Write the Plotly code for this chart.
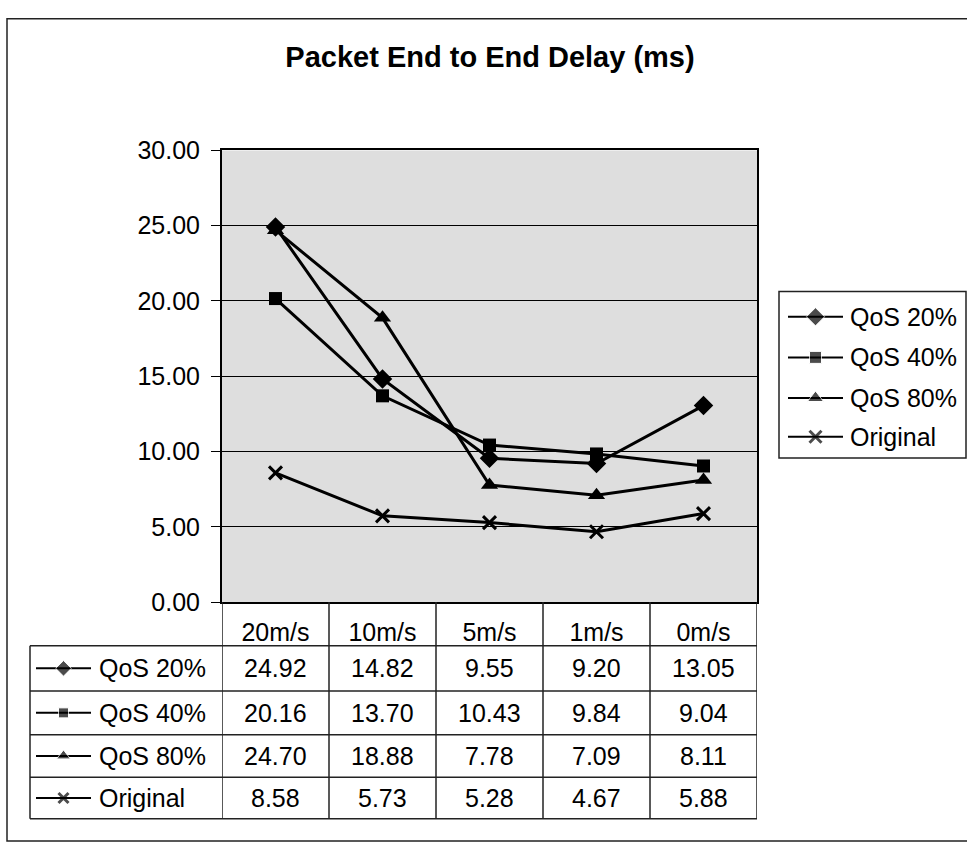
import plotly.graph_objects as go

W, H = 967, 856

speeds = ["20m/s", "10m/s", "5m/s", "1m/s", "0m/s"]
qos20 = [24.92, 14.82, 9.55, 9.20, 13.05]
qos40 = [20.16, 13.70, 10.43, 9.84, 9.04]
qos80 = [24.70, 18.88, 7.78, 7.09, 8.11]
original = [8.58, 5.73, 5.28, 4.67, 5.88]

series = [
    ("QoS 20%", qos20, dict(symbol="diamond", size=15, color="black")),
    ("QoS 40%", qos40, dict(symbol="square", size=13, color="black")),
    ("QoS 80%", qos80, dict(symbol="triangle-up", size=15, color="black")),
    ("Original", original, dict(symbol="x-thin-open", size=13, color="black",
                                line=dict(color="black", width=3))),
]

FONT = "Liberation Sans, Arial, sans-serif"
FS = 25

# pixel helpers (figure has no margins, paper == whole page)
def px(x): return x / W
def py(y): return 1 - y / H

plot_l, plot_r, plot_t, plot_b = 222, 757, 141, 608
tab_l = 30
row_lines = [653, 700, 745, 789, 832]
leg_box = (779, 966, 287, 459)
leg_rows = [313, 355, 397, 437]

fig = go.Figure()

for name, vals, mk in series:
    fig.add_trace(go.Scatter(x=speeds, y=vals, mode="lines+markers", name=name,
                             line=dict(color="black", width=3), marker=mk))

def key(x0, x1, yc, mk, shrink):
    # little line+marker sample, drawn on the hidden pixel axis
    fig.add_trace(go.Scatter(x=[x0, (x0 + x1) / 2, x1], y=[yc, yc, yc], mode="lines+markers",
                             xaxis="x2", yaxis="y2", showlegend=False, hoverinfo="skip",
                             line=dict(color="black", width=2),
                             marker=dict(mk, size=[0, mk["size"] - shrink, 0])))

annotations = []
for i, (name, vals, mk) in enumerate(series):
    # table row
    yc = (row_lines[i] + row_lines[i + 1]) / 2
    key(36, 91, yc, mk, 3)
    annotations.append(dict(text=name, x=px(97), y=py(yc), xref="paper", yref="paper",
                            xanchor="left", yanchor="middle", showarrow=False,
                            font=dict(size=FS, color="black", family=FONT)))
    for j, v in enumerate(vals):
        annotations.append(dict(text="%.2f" % v, x=speeds[j], y=py(yc), xref="x", yref="paper",
                                xanchor="center", yanchor="middle", showarrow=False,
                                font=dict(size=FS, color="black", family=FONT)))
    # side legend entry
    ly = leg_rows[i]
    key(788, 843, ly, mk, 1)
    annotations.append(dict(text=name, x=px(848), y=py(ly), xref="paper", yref="paper",
                            xanchor="left", yanchor="middle", showarrow=False,
                            font=dict(size=FS, color="black", family=FONT)))

shapes = []
# gray plot background
shapes.append(dict(type="rect", xref="paper", yref="paper", layer="below",
                   x0=px(plot_l), x1=px(plot_r), y0=py(plot_b), y1=py(plot_t),
                   fillcolor="#dedede", line=dict(width=0)))
# outer chart border
shapes.append(dict(type="rect", xref="paper", yref="paper",
                   x0=px(7), x1=px(975), y0=py(855), y1=py(5),
                   line=dict(color="#222", width=1.5)))
# legend box
shapes.append(dict(type="rect", xref="paper", yref="paper",
                   x0=px(leg_box[0]), x1=px(leg_box[1]), y0=py(leg_box[3]), y1=py(leg_box[2]),
                   line=dict(color="#222", width=1.5)))
# table horizontal lines
for y in row_lines:
    shapes.append(dict(type="line", xref="paper", yref="paper",
                       x0=px(tab_l), x1=px(plot_r), y0=py(y), y1=py(y),
                       line=dict(color="#222", width=1.5)))
# table vertical lines, on category boundaries
for i in range(len(speeds) + 1):
    shapes.append(dict(type="line", xref="x", yref="paper",
                       x0=i - 0.5, x1=i - 0.5, y0=py(plot_b), y1=py(row_lines[-1]),
                       line=dict(color="#222", width=1.5)))
shapes.append(dict(type="line", xref="paper", yref="paper",
                   x0=px(tab_l), x1=px(tab_l), y0=py(row_lines[0]), y1=py(row_lines[-1]),
                   line=dict(color="#222", width=1.5)))

fig.update_layout(
    width=W, height=H, autosize=False,
    margin=dict(l=0, r=0, t=0, b=0),
    paper_bgcolor="white", plot_bgcolor="rgba(0,0,0,0)",
    font=dict(family=FONT, size=FS, color="black"),
    title=dict(text="<b>Packet End to End Delay (ms)</b>", x=px(490), y=py(57),
               xanchor="center", yanchor="middle", font=dict(size=29, family=FONT)),
    xaxis=dict(domain=[px(plot_l), px(plot_r)], type="category", range=[-0.5, 4.5],
               showgrid=False, zeroline=False, showline=True, mirror=True,
               linecolor="black", linewidth=2, ticks="", ticklabelstandoff=7,
               tickfont=dict(size=FS)),
    yaxis=dict(domain=[py(plot_b), py(plot_t)], range=[0, 30], dtick=5, tickformat=".2f",
               showgrid=True, gridcolor="black", gridwidth=1, zeroline=False,
               showline=True, mirror=True, linecolor="black", linewidth=2,
               ticks="outside", ticklen=9, tickcolor="black", ticklabelstandoff=6,
               tickfont=dict(size=FS)),
    xaxis2=dict(domain=[0, 1], range=[0, W], visible=False, anchor="y2"),
    yaxis2=dict(domain=[0, 1], range=[H, 0], visible=False, anchor="x2"),
    showlegend=False,
    shapes=shapes,
    annotations=annotations,
)

fig.write_html("out.html", config={"displayModeBar": False},
               post_script="document.body.style.margin='0';")
